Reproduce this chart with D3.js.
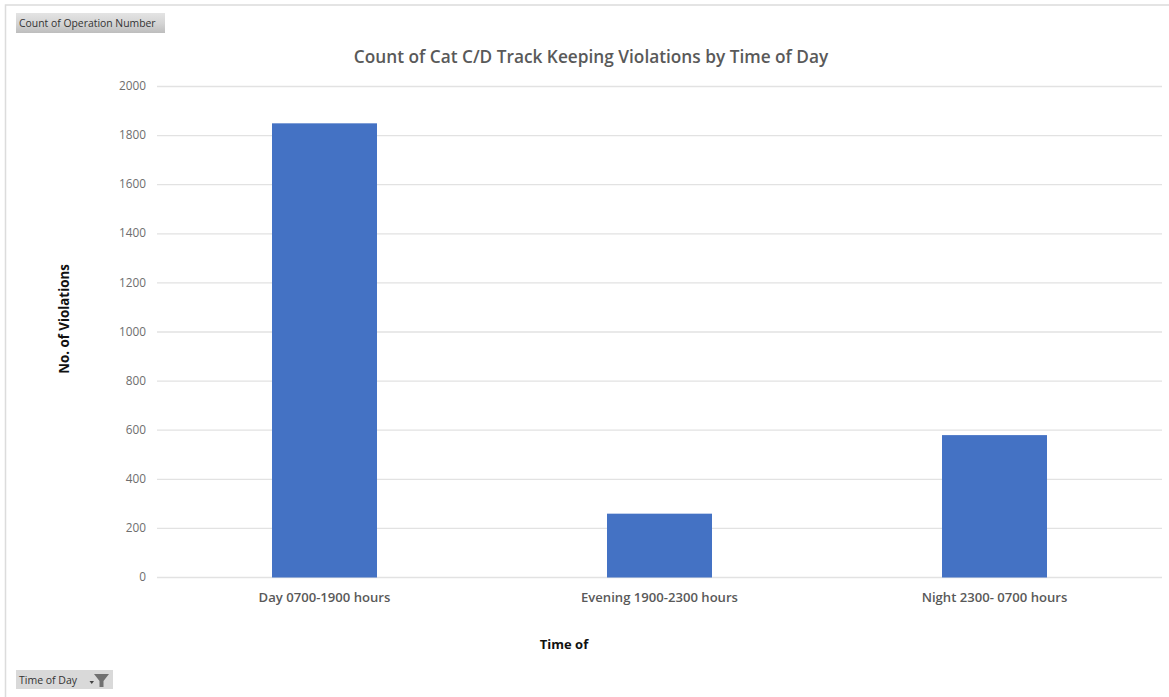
<!DOCTYPE html>
<html>
<head>
<meta charset="utf-8">
<script src="https://cdn.jsdelivr.net/npm/d3@7/dist/d3.min.js"></script>
<style>
html,body{margin:0;padding:0;background:#fff;}
svg{display:block;}
text{font-family:"Open Sans","Noto Sans",sans-serif;}
</style>
</head>
<body>
<svg id="chart" width="1169" height="697"></svg>
<script>
const categories = ["Day 0700-1900 hours", "Evening 1900-2300 hours", "Night 2300- 0700 hours"];
const violations = [1850, 260, 580];
const yTicks = [0, 200, 400, 600, 800, 1000, 1200, 1400, 1600, 1800, 2000];
const chartTitle = "Count of Cat C/D Track Keeping Violations by Time of Day";
const yTitle = "No. of Violations";
const xTitle = "Time of";
const valueField = "Count of Operation Number";
const filterField = "Time of Day";

const svg = d3.select("#chart");
const plot = {left: 157, right: 1162, top: 86.5, bottom: 577.5};

const x = d3.scaleBand().domain(categories).range([plot.left, plot.right]).paddingInner(0.6866).paddingOuter(0.3433);
const y = d3.scaleLinear().domain([0, 2000]).range([plot.bottom, plot.top]);

// Outer frame of the chart area
svg.append("path").attr("d", "M5.5,697V5H1169")
  .attr("stroke", "#dcdcdc").attr("stroke-width", 1.5).attr("fill", "none");

// Gradient shared by the pivot field buttons
const grad = svg.append("defs").append("linearGradient").attr("id", "fieldButton").attr("x1", 0).attr("y1", 0).attr("x2", 0).attr("y2", 1);
grad.append("stop").attr("offset", "0%").attr("stop-color", "#e4e4e4");
grad.append("stop").attr("offset", "55%").attr("stop-color", "#d3d3d3");
grad.append("stop").attr("offset", "100%").attr("stop-color", "#bdbdbd");

// Horizontal gridlines
svg.append("g").selectAll("line").data(yTicks).join("line")
  .attr("x1", plot.left).attr("x2", plot.right)
  .attr("y1", d => y(d)).attr("y2", d => y(d))
  .attr("stroke", "#e2e2e2").attr("stroke-width", 1.3);

// Value axis labels
svg.append("g").selectAll("text").data(yTicks).join("text")
  .attr("x", 146).attr("y", d => y(d) - 0.5).attr("dy", "0.35em")
  .attr("text-anchor", "end").attr("font-size", 11.8).attr("fill", "#6e6e6e")
  .text(d => d);

// Bars
svg.append("g").selectAll("rect").data(categories).join("rect")
  .attr("x", d => x(d)).attr("width", x.bandwidth())
  .attr("y", (d, i) => y(violations[i]))
  .attr("height", (d, i) => y(0) - y(violations[i]))
  .attr("fill", "#4472c4");

// Category labels
svg.append("g").selectAll("text").data(categories).join("text")
  .attr("x", d => x(d) + x.bandwidth() / 2).attr("y", 601.5)
  .attr("text-anchor", "middle").attr("font-size", 13.1).attr("font-weight", 600).attr("fill", "#595959")
  .text(d => d);

// Titles
svg.append("text").attr("x", 591).attr("y", 63).attr("text-anchor", "middle")
  .attr("font-size", 17.25).attr("font-weight", 600).attr("fill", "#595959").text(chartTitle);
svg.append("text").attr("transform", "translate(69,319) rotate(-90)").attr("text-anchor", "middle")
  .attr("font-size", 13.3).attr("font-weight", 700).attr("fill", "#111").text(yTitle);
svg.append("text").attr("x", 564).attr("y", 649).attr("text-anchor", "middle")
  .attr("font-size", 13).attr("font-weight", 700).attr("fill", "#111").text(xTitle);

// Pivot field buttons
svg.append("rect").attr("x", 16).attr("y", 13).attr("width", 149).attr("height", 20).attr("fill", "url(#fieldButton)");
svg.append("text").attr("x", 19).attr("y", 27).attr("font-size", 10.4).attr("fill", "#333").text(valueField);
svg.append("rect").attr("x", 16).attr("y", 670).attr("width", 97).attr("height", 19).attr("fill", "#d9d9d9");
svg.append("text").attr("x", 19).attr("y", 684).attr("font-size", 10.5).attr("fill", "#333").text(filterField);
svg.append("path").attr("d", "M94,674H109L103.5,681V687H99.5V681Z").attr("fill", "#707070");
svg.append("path").attr("d", "M89.5,681H94L91.75,684Z").attr("fill", "#444");
</script>
</body>
</html>
